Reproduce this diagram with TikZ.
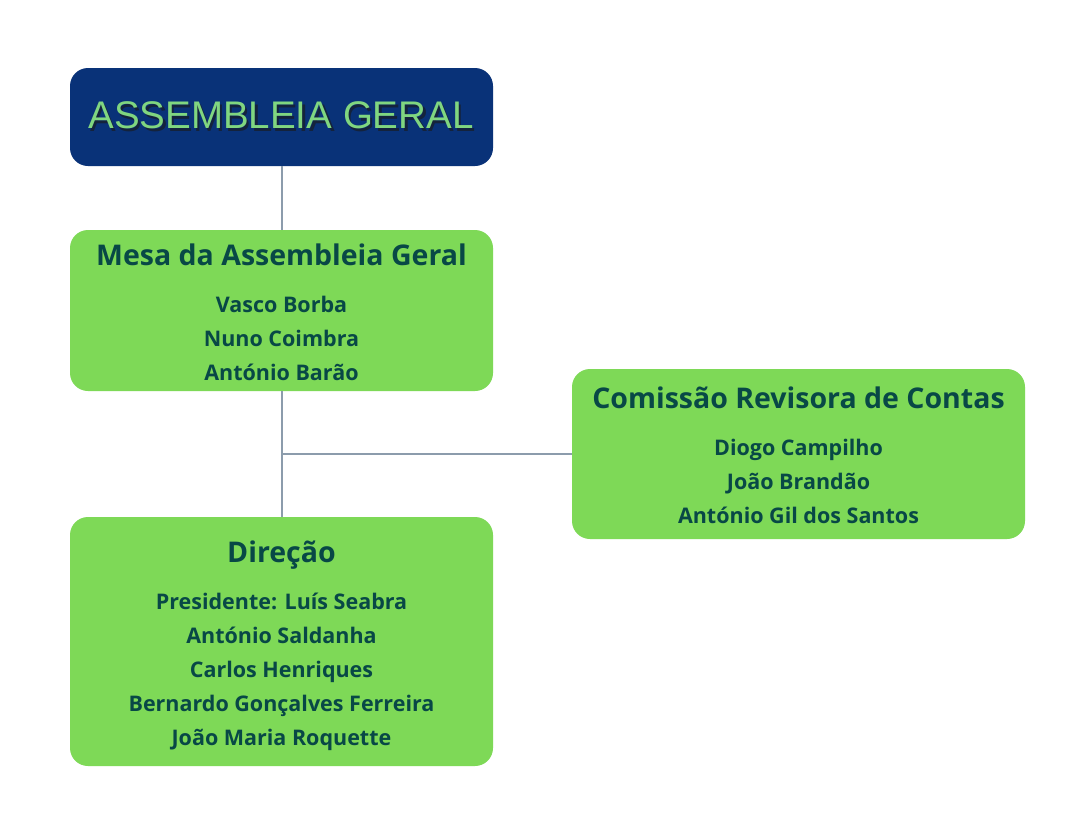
\documentclass[tikz,border=0pt]{standalone}
\usepackage{fontspec}
\setmainfont{Open Sans}
\newfontfamily\titlefont{Liberation Sans}
\definecolor{boxgreen}{RGB}{126,217,87}
\definecolor{navy}{RGB}{9,50,120}
\definecolor{txtdark}{RGB}{8,72,70}
\definecolor{titlegreen}{RGB}{128,214,128}
\definecolor{titleshadow}{RGB}{20,35,60}
\definecolor{linegray}{RGB}{140,156,172}
\tikzset{
  gbox/.style={fill=boxgreen, rounded corners=18pt},
  hdr/.style={anchor=base, text=txtdark, font=\fontsize{28.5}{32}\selectfont\bfseries},
  nm/.style={anchor=base, text=txtdark, font=\fontsize{21.5}{24}\selectfont\bfseries},
  conn/.style={draw=linegray, line width=2pt}
}
\newcommand{\shadowtext}[1]{\rlap{\kern2.5pt\raisebox{-3pt}{\color{titleshadow}#1}}#1}
\begin{document}
\begin{tikzpicture}[x=1pt,y=-1pt]
\useasboundingbox (0,0) rectangle (1091,838);
\fill[white] (0,0) rectangle (1091,838);
% boxes
\node[fill=navy, rounded corners=18pt, minimum width=423pt, minimum height=98pt, inner sep=0pt] (ag) at (281.5,117) {};
\node[gbox, minimum width=423pt, minimum height=161pt, inner sep=0pt] (mesa) at (281.5,310.5) {};
\node[gbox, minimum width=453pt, minimum height=170pt, inner sep=0pt] (crc) at (798.5,454) {};
\node[gbox, minimum width=423pt, minimum height=249pt, inner sep=0pt] (dir) at (281.5,641.5) {};
% connectors
\coordinate (j) at (281.5,454);
\draw[conn] (ag.south) -- (mesa.north);
\draw[conn] (mesa.south) -- (dir.north);
\draw[conn] (j) -- (crc.west);
% title
\node[text=titlegreen, font=\titlefont\fontsize{38.5}{42}\selectfont] (agt) at (281,117) {\shadowtext{ASSEMBLEIA GERAL}};
% mesa
\node[hdr] (mh) at (281.5,265) {Mesa da Assembleia Geral};
\node[nm] (m1) at (281.5,312) {Vasco Borba};
\node[nm] (m2) at (281.5,346) {Nuno Coimbra};
\node[nm] (m3) at (281.5,380) {António Barão};
% crc
\node[hdr] (ch) at (798.5,408) {Comissão Revisora de Contas};
\node[nm] (c1) at (798.5,455) {Diogo Campilho};
\node[nm] (c2) at (798.5,489) {João Brandão};
\node[nm] (c3) at (798.5,523) {António Gil dos Santos};
% direcao
\node[hdr] (dh) at (281.5,562) {Direção};
\node[nm] (d1) at (281.5,609) {Presidente: Luís Seabra};
\node[nm] (d2) at (281.5,643) {António Saldanha};
\node[nm] (d3) at (281.5,677) {Carlos Henriques};
\node[nm] (d4) at (281.5,711) {Bernardo Gonçalves Ferreira};
\node[nm] (d5) at (281.5,745) {João Maria Roquette};
\end{tikzpicture}
\end{document}
